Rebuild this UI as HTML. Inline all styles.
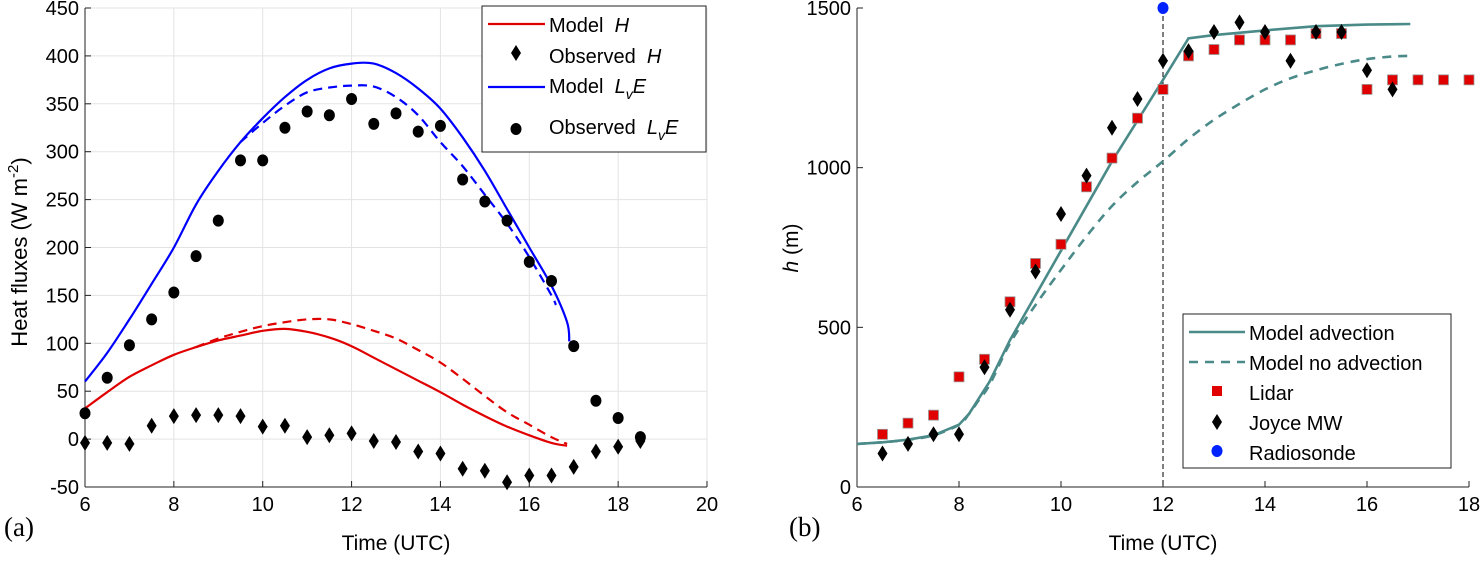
<!DOCTYPE html>
<html><head><meta charset="utf-8"><style>
body{margin:0;background:#fff;}
svg{font-family:"Liberation Sans",sans-serif;}
</style></head><body>
<svg id="c" width="1482" height="556" viewBox="0 0 1482 556" xmlns="http://www.w3.org/2000/svg"></svg>
<script>
const aLvEObsX=[6,6.5,7,7.5,8,8.5,9,9.5,10,10.5,11,11.5,12,12.5,13,13.5,14,14.5,15,15.5,16,16.5,17,17.5,18,18.5];
const aLvEObs=[27,64,98,125,153,191,228,291,291,325,342,338,355,329,340,321,327,271,248,228,185,165,97,40,22,2];
const aHObs=[-4,-4,-5,14,24,25,25,24,13,14,2,4,6,-2,-3,-13,-15,-31,-33,-45,-38,-38,-29,-13,-8,-2];
const aLvEModX=[6,6.5,7,7.5,8,8.5,9,9.5,10,10.5,11,11.5,12,12.5,13,13.5,14,14.5,15,15.5,16,16.5,16.85,16.9];
const aLvEMod=[60,90,125,162,200,245,280,310,335,357,375,387,392,392,382,366,345,315,280,240,200,160,122,102];
const aLvENoX=[9.5,10,10.5,11,11.5,12,12.5,13,13.5,14,14.5,15,15.5,16,16.5,16.6];
const aLvENo=[310,330,348,362,367,369,368,357,338,310,285,255,225,190,150,140];
const aHModX=[6,6.5,7,7.5,8,8.5,9,9.5,10,10.5,11,11.5,12,12.5,13,13.5,14,14.5,15,15.5,16,16.5,16.85];
const aHMod=[32,49,65,77,88,96,103,108,113,115,112,106,97,85,73,61,49,36,24,13,4,-4,-7];
const aHNoX=[8.5,9,9.5,10,10.5,11,11.5,12,12.5,13,13.5,14,14.5,15,15.5,16,16.5,16.85];
const aHNo=[96,105,112,118,122,125,125,120,113,105,93,80,63,45,28,15,2,-5];
const aXTicks=[6,8,10,12,14,16,18,20];
const aYTicks=[-50,0,50,100,150,200,250,300,350,400,450];

const bX=[6.5,7,7.5,8,8.5,9,9.5,10,10.5,11,11.5,12,12.5,13,13.5,14,14.5,15,15.5,16,16.5,17,17.5,18];
const bLidar=[165,200,225,345,400,580,700,760,940,1030,1155,1245,1350,1370,1400,1400,1400,1420,1420,1245,1275,1275,1275,1275];
const bJoyceX=[6.5,7,7.5,8,8.5,9,9.5,10,10.5,11,11.5,12,12.5,13,13.5,14,14.5,15,15.5,16,16.5];
const bJoyce=[105,135,165,165,375,555,675,855,975,1125,1215,1335,1365,1425,1455,1425,1335,1425,1425,1305,1245];
const bAdvX=[6,6.5,7,7.5,8,8.2,8.4,8.6,9,10,11,12,12.5,13,14,15,16,16.85];
const bAdv=[135,140,148,162,195,230,280,330,460,740,1020,1275,1405,1415,1430,1443,1448,1450];
const bNoX=[6,6.5,7,7.5,8,8.2,8.4,8.6,9,9.5,10,10.5,11,11.5,12,12.5,13,13.5,14,14.5,15,15.5,16,16.5,16.85];
const bNo=[135,140,148,162,195,230,275,320,450,570,680,785,880,955,1020,1090,1150,1200,1245,1280,1305,1325,1340,1348,1350];
const bRadioX=[12];const bRadio=[1500];
const bXTicks=[6,8,10,12,14,16,18];
const bYTicks=[0,500,1000,1500];

const NS="http://www.w3.org/2000/svg";
const svg=document.getElementById('c');
function mk(t,a,p){const e=document.createElementNS(NS,t);for(const k in a)e.setAttribute(k,a[k]);(p||svg).appendChild(e);return e;}
const AX0=85, AX1=707;
const ax=x=>AX0+(x-6)*((AX1-AX0)/14), ay=y=>487-(y+50)*(479/500);
const bx=x=>857+(x-6)*(612/12), by=y=>487-y*(479/1500);
function path(xs,ys,fx,fy,smooth){
  const P=xs.map((x,i)=>[fx(x),fy(ys[i])]);
  let d='M'+P[0][0].toFixed(1)+' '+P[0][1].toFixed(1);
  for(let i=0;i<P.length-1;i++){
    const p0=P[Math.max(0,i-1)],p1=P[i],p2=P[i+1],p3=P[Math.min(P.length-1,i+2)];
    const k=smooth?6:1e9;
    const c1=[p1[0]+(p2[0]-p0[0])/k,p1[1]+(p2[1]-p0[1])/k],c2=[p2[0]-(p3[0]-p1[0])/k,p2[1]-(p3[1]-p1[1])/k];
    d+=`C${c1[0].toFixed(1)} ${c1[1].toFixed(1)} ${c2[0].toFixed(1)} ${c2[1].toFixed(1)} ${p2[0].toFixed(1)} ${p2[1].toFixed(1)}`;
  }
  return d;
}

// Panel a
let g=mk('g',{});


aXTicks.forEach(t=>{let l=mk('line',{x1:ax(t),x2:ax(t),y1:ay(450),y2:ay(-50),stroke:'#e3e3e3'},g);
 let tx=mk('text',{x:ax(t),y:511,'font-size':20,'text-anchor':'middle'},g);tx.textContent=t;
 mk('line',{x1:ax(t),x2:ax(t),y1:487,y2:481,stroke:'#222'},g);});
aYTicks.forEach(t=>{let l=mk('line',{x1:AX0,x2:AX1,y1:ay(t),y2:ay(t),stroke:'#e3e3e3'},g);
 let tx=mk('text',{x:AX0-6,y:ay(t)+7,'font-size':20,'text-anchor':'end'},g);tx.textContent=t;
 mk('line',{x1:AX0,x2:AX0+6,y1:ay(t),y2:ay(t),stroke:'#222'},g);});
mk('line',{x1:AX0,x2:AX0,y1:ay(450),y2:487,stroke:'#222'},g);
mk('line',{x1:AX0,x2:AX1,y1:487,y2:487,stroke:'#222'},g);
let p=mk('path',{d:path(aLvEModX,aLvEMod,ax,ay,true),fill:'none',stroke:'#0000ff','stroke-width':2.2},g);
p=mk('path',{d:path(aLvENoX,aLvENo,ax,ay,true),fill:'none',stroke:'#0000ff','stroke-width':2.2,'stroke-dasharray':'9 6'},g);
p=mk('path',{d:path(aHModX,aHMod,ax,ay,true),fill:'none',stroke:'#e00000','stroke-width':2.2},g);
p=mk('path',{d:path(aHNoX,aHNo,ax,ay,true),fill:'none',stroke:'#e00000','stroke-width':2.2,'stroke-dasharray':'9 6'},g);
aLvEObsX.forEach((x,i)=>{let c=mk('ellipse',{cx:ax(x),cy:ay(aLvEObs[i]),rx:5.5,ry:6,fill:'#000'},g);
 let X=ax(x),Y=ay(aHObs[i]);let d=mk('path',{d:`M${X} ${Y-8}L${X+5} ${Y}L${X} ${Y+8}L${X-5} ${Y}Z`,fill:'#000'},g);});
let t=mk('text',{x:0,y:0,'font-size':22,transform:'translate(27,252) rotate(-90)','text-anchor':'middle'},g);t.innerHTML='Heat fluxes (W m<tspan dy="-9" font-size="15">-2</tspan><tspan dy="9">)</tspan>';
t=mk('text',{x:396,y:550,'font-size':21,'text-anchor':'middle'},g);t.textContent='Time (UTC)';
t=mk('text',{x:4,y:536,'font-size':27,'font-family':'Liberation Serif'},g);t.textContent='(a)';
let lg=mk('g',{},g);
mk('rect',{x:482,y:6,width:224,height:146,fill:'#fff',stroke:'#222'},lg);
mk('line',{x1:488,x2:545,y1:24,y2:24,stroke:'#e00000','stroke-width':2.2},lg);
mk('path',{d:'M516 45L521 53L516 61L511 53Z',fill:'#000'},lg);
mk('line',{x1:488,x2:545,y1:87,y2:87,stroke:'#0000ff','stroke-width':2.2},lg);
mk('ellipse',{cx:516,cy:129,rx:5.5,ry:6,fill:'#000'},lg);
[['Model  ','H',32],['Observed  ','H',63],['Model  ','L',93],['Observed  ','L',134]].forEach((r,i)=>{let e=mk('text',{x:549,y:r[2],'font-size':20},lg);
 e.innerHTML=r[0].replace(/ /g,'\u00a0')+'<tspan font-style="italic">'+r[1]+'</tspan>'+(r[1]=='L'?'<tspan font-style="italic" font-size="14" dy="6">v</tspan><tspan font-style="italic" dy="-6">E</tspan>':'');
 });

// Panel b
g=mk('g',{});


mk('line',{x1:857,x2:857,y1:8,y2:487,stroke:'#222'},g);
mk('line',{x1:857,x2:1469,y1:487,y2:487,stroke:'#222'},g);
bXTicks.forEach(v=>{mk('line',{x1:bx(v),x2:bx(v),y1:487,y2:481,stroke:'#222'},g);let tx=mk('text',{x:bx(v),y:511,'font-size':20,'text-anchor':'middle'},g);tx.textContent=v;});
bYTicks.forEach(v=>{mk('line',{x1:857,x2:863,y1:by(v),y2:by(v),stroke:'#222'},g);let tx=mk('text',{x:851,y:by(v)+7,'font-size':20,'text-anchor':'end'},g);tx.textContent=v;});
p=mk('line',{x1:bx(12),x2:bx(12),y1:by(1500),y2:487,stroke:'#000','stroke-dasharray':'5 3'},g);
p=mk('path',{d:path(bAdvX,bAdv,bx,by,false),fill:'none',stroke:'#4a8a88','stroke-width':2.6},g);
p=mk('path',{d:path(bNoX,bNo,bx,by,true),fill:'none',stroke:'#4a8a88','stroke-width':2.6,'stroke-dasharray':'9 7'},g);
bX.forEach((x,i)=>{let r=mk('rect',{x:bx(x)-5,y:by(bLidar[i])-5,width:10,height:10,fill:'#e00000',stroke:'#999','stroke-width':0.8},g);});
bJoyceX.forEach((x,i)=>{let X=bx(x),Y=by(bJoyce[i]);let d=mk('path',{d:`M${X} ${Y-8}L${X+5} ${Y}L${X} ${Y+8}L${X-5} ${Y}Z`,fill:'#000'},g);});
bRadioX.forEach((x,i)=>{let c=mk('ellipse',{cx:bx(x),cy:by(bRadio[i]),rx:5.5,ry:6,fill:'#0022ff'},g);});
t=mk('text',{x:0,y:0,'font-size':21,transform:'translate(798,248) rotate(-90)','text-anchor':'middle'},g);t.innerHTML='<tspan font-style="italic">h</tspan> (m)';
t=mk('text',{x:1163,y:550,'font-size':21,'text-anchor':'middle'},g);t.textContent='Time (UTC)';
t=mk('text',{x:789,y:536,'font-size':27,'font-family':'Liberation Serif'},g);t.textContent='(b)';
lg=mk('g',{},g);
mk('rect',{x:1183,y:314,width:268,height:154,fill:'#fff',stroke:'#222'},lg);
mk('line',{x1:1189,x2:1245,y1:332,y2:332,stroke:'#4a8a88','stroke-width':2.6},lg);
mk('line',{x1:1189,x2:1245,y1:362,y2:362,stroke:'#4a8a88','stroke-width':2.6,'stroke-dasharray':'9 7'},lg);
mk('rect',{x:1212,y:386,width:10,height:10,fill:'#e00000'},lg);
mk('path',{d:'M1217 414L1222 422L1217 430L1212 422Z',fill:'#000'},lg);
mk('ellipse',{cx:1217,cy:451,rx:5.5,ry:6,fill:'#0022ff'},lg);
[['Model advection',340],['Model no advection',370],['Lidar',400],['Joyce MW',430],['Radiosonde',460]].forEach(r=>{let e=mk('text',{x:1249,y:r[1],'font-size':20},lg);e.textContent=r[0];});
</script>
</body></html>
